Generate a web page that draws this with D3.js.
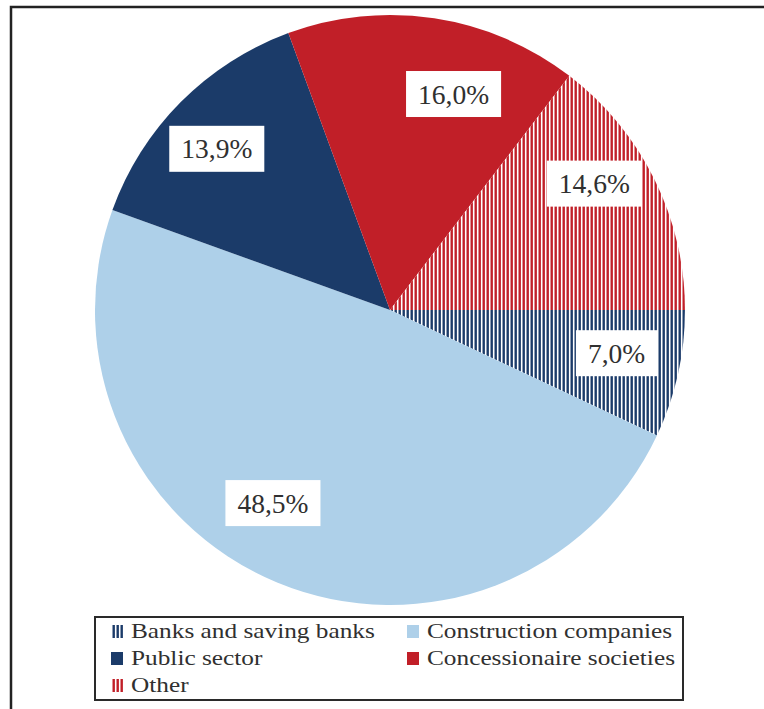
<!DOCTYPE html>
<html>
<head>
<meta charset="utf-8">
<script src="https://cdn.jsdelivr.net/npm/d3@7"></script>
<style>
  html, body { margin: 0; padding: 0; background: #ffffff; }
  svg { display: block; }
  text { font-family: "Liberation Serif", "Times New Roman", serif; fill: #303030; }
</style>
</head>
<body>
<svg id="chart" width="764" height="709"></svg>
<script>
// Holders of the outstanding debt, share of total (%)
const categories = [
  "Banks and saving banks",
  "Construction companies",
  "Public sector",
  "Concessionaire societies",
  "Other"
];
const shares = [7.0, 48.5, 13.9, 16.0, 14.6];
const fills = ["stripes-navy", "#aed0e9", "#1b3b69", "#c11f28", "stripes-red"];

// Label placement tweaks (pixel nudges from the slice centroid)
const labelNudge = [[2, -7], [-29, -19.5], [-10, 1], [29, 11.5], [-2, -24.5]];

const W = 764, H = 709;
const cx = 390, cy = 310, R = 295;
const fmt = v => d3.format(".1f")(v).replace(".", ",") + "%";

const svg = d3.select("#chart");

// Striped fills
const defs = svg.append("defs");
[["stripes-navy", "#1b3b69"], ["stripes-red", "#c11f28"]].forEach(([id, col]) => {
  const p = defs.append("pattern")
    .attr("id", id)
    .attr("patternUnits", "userSpaceOnUse")
    .attr("width", 4).attr("height", 4);
  p.append("rect").attr("width", 4).attr("height", 4).attr("fill", "#ffffff");
  p.append("rect").attr("x", 0.5).attr("width", 2.4).attr("height", 4).attr("fill", col);
});
const paint = f => f.startsWith("stripes") ? `url(#${f})` : f;

// Outer frame (top and left edges)
svg.append("path")
  .attr("d", `M${11},${H} L${11},${7} L${W},${7}`)
  .attr("fill", "none")
  .attr("stroke", "#222")
  .attr("stroke-width", 2.5);

// Pie, starting at three o'clock and running clockwise
const pie = d3.pie()
  .sort(null)
  .value(d => d)
  .startAngle(Math.PI / 2)
  .endAngle(Math.PI / 2 + 2 * Math.PI);
const arcs = pie(shares);

const arc = d3.arc().innerRadius(0).outerRadius(R);
const labelArc = d3.arc().innerRadius(R * 0.78).outerRadius(R * 0.78);

const g = svg.append("g").attr("transform", `translate(${cx},${cy})`);
g.selectAll("path.slice")
  .data(arcs)
  .join("path")
  .attr("class", "slice")
  .attr("d", arc)
  .attr("fill", (d, i) => paint(fills[i]));

// Value labels in white boxes
const lab = g.selectAll("g.lab")
  .data(arcs)
  .join("g")
  .attr("class", "lab")
  .attr("transform", (d, i) => {
    const [x, y] = labelArc.centroid(d);
    return `translate(${x + labelNudge[i][0]},${y + labelNudge[i][1]})`;
  });
const boxes = lab.append("rect").attr("fill", "#ffffff");
const texts = lab.append("text")
  .attr("text-anchor", "middle")
  .attr("y", 9.5)
  .style("font-size", "27.5px")
  .text(d => fmt(d.data));
texts.each(function(d, i) {
  const w = this.getComputedTextLength();
  d3.select(boxes.nodes()[i])
    .attr("x", -w / 2 - 12).attr("y", -23)
    .attr("width", w + 24).attr("height", 46);
});

// Legend
const lg = svg.append("g");
lg.append("rect")
  .attr("x", 95).attr("y", 617)
  .attr("width", 588).attr("height", 83)
  .attr("fill", "#ffffff")
  .attr("stroke", "#2a2a2a")
  .attr("stroke-width", 2);

const colX = [111, 407];
const rowY = [638, 665, 692];
categories.forEach((name, i) => {
  const col = i % 2, row = Math.floor(i / 2);
  const x = colX[col], y = rowY[row];
  lg.append("rect")
    .attr("x", x).attr("y", y - 13)
    .attr("width", 12).attr("height", 13)
    .attr("fill", paint(fills[i]));
  lg.append("text")
    .attr("transform", `translate(${x + 20},${y}) scale(1.235,1)`)
    .style("font-size", "20.5px")
    .text(name);
});
</script>
</body>
</html>
